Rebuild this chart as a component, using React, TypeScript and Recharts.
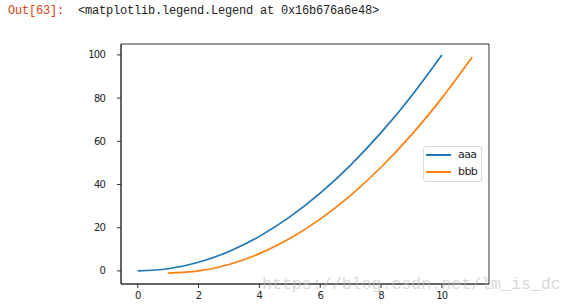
import React from 'react';
import { LineChart, Line, XAxis, YAxis, ReferenceArea } from 'recharts';

// series values (two parabolas)
const aaaX = [0, 1, 2, 3, 4, 5, 6, 7, 8, 9, 10];
const aaaY = [0, 1, 4, 9, 16, 25, 36, 49, 64, 81, 100];
const bbbX = [1, 2, 3, 4, 5, 6, 7, 8, 9, 10, 11];
const bbbY = [-1, 0, 3, 8, 15, 24, 35, 48, 63, 80, 99];

const xTicks = [0, 2, 4, 6, 8, 10];
const yTicks = [0, 20, 40, 60, 80, 100];

const series = [
  { name: 'aaa', color: '#1f77b4' },
  { name: 'bbb', color: '#ff7f0e' },
];

const aaaData = aaaX.map((x, i) => ({ x, y: aaaY[i] }));
const bbbData = bbbX.map((x, i) => ({ x, y: bbbY[i] }));

const xDomain: [number, number] = [-0.55, 11.55];
const yDomain: [number, number] = [-6.05, 105.05];

const axisColor = '#333333';
const tickStyle = { fill: '#262626', fontSize: 10, fontFamily: 'DejaVu Sans', letterSpacing: -0.8 };

const BoxLegend = () => (
  <div
    style={{
      position: 'absolute',
      left: 423,
      top: 146,
      width: 59,
      height: 36,
      border: '1px solid #d9d9d9',
      borderRadius: 3,
      background: 'rgba(255,255,255,0.8)',
      boxSizing: 'border-box',
    }}
  >
    {series.map((s, i) => (
      <div key={s.name}>
        <div
          style={{
            position: 'absolute',
            left: 2,
            top: 7 + i * 16.5,
            width: 25,
            height: 2,
            background: s.color,
          }}
        />
        <div
          style={{
            position: 'absolute',
            left: 34,
            top: 1 + i * 16.5,
            fontSize: 11,
            lineHeight: '14px',
            fontFamily: 'DejaVu Sans',
            color: '#262626',
            letterSpacing: -0.6,
          }}
        >
          {s.name}
        </div>
      </div>
    ))}
  </div>
);

export default function App() {
  return (
    <div style={{ position: 'fixed', left: 0, top: 0, width: 573, height: 306, background: '#fff' }}>
      <div
        style={{
          position: 'absolute',
          left: 8,
          top: 4,
          fontFamily: 'Liberation Mono',
          fontSize: 12,
          letterSpacing: -0.2,
          whiteSpace: 'pre',
          lineHeight: '14px',
        }}
      >
        <span style={{ color: '#d84315' }}>Out[63]:</span>
        <span style={{ color: '#222' }}>  {'<matplotlib.legend.Legend at 0x16b676a6e48>'}</span>
      </div>

      <LineChart
        width={573}
        height={306}
        margin={{ top: 44, right: 84, bottom: 2, left: 91 }}
        style={{ position: 'absolute', left: 0, top: 0 }}
      >
        <XAxis
          dataKey="x"
          type="number"
          domain={xDomain}
          ticks={xTicks}
          allowDataOverflow
          height={20}
          tick={tickStyle}
          tickSize={4}
          tickMargin={4}
          axisLine={{ stroke: axisColor }}
          tickLine={{ stroke: axisColor }}
        />
        <YAxis
          type="number"
          domain={yDomain}
          ticks={yTicks}
          allowDataOverflow
          width={30}
          tick={tickStyle}
          tickSize={4}
          tickMargin={12}
          axisLine={{ stroke: axisColor }}
          tickLine={{ stroke: axisColor }}
        />
        <ReferenceArea
          x1={xDomain[0]}
          x2={xDomain[1]}
          y1={yDomain[0]}
          y2={yDomain[1]}
          fill="none"
          fillOpacity={0}
          stroke={axisColor}
          strokeOpacity={1}
          ifOverflow="visible"
        />
        <Line
          data={aaaData}
          dataKey="y"
          name="aaa"
          type="natural"
          stroke={series[0].color}
          strokeWidth={1.7}
          dot={false}
          activeDot={false}
          isAnimationActive={false}
        />
        <Line
          data={bbbData}
          dataKey="y"
          name="bbb"
          type="natural"
          stroke={series[1].color}
          strokeWidth={1.7}
          dot={false}
          activeDot={false}
          isAnimationActive={false}
        />
      </LineChart>

      <BoxLegend />

      <div
        style={{
          position: 'absolute',
          left: 262,
          top: 276,
          fontFamily: 'Liberation Mono',
          fontSize: 16.6,
          lineHeight: '18px',
          color: 'rgba(190,190,190,0.6)',
          whiteSpace: 'pre',
          pointerEvents: 'none',
        }}
      >
        https://blog.csdn.net/lm_is_dc
      </div>
    </div>
  );
}
